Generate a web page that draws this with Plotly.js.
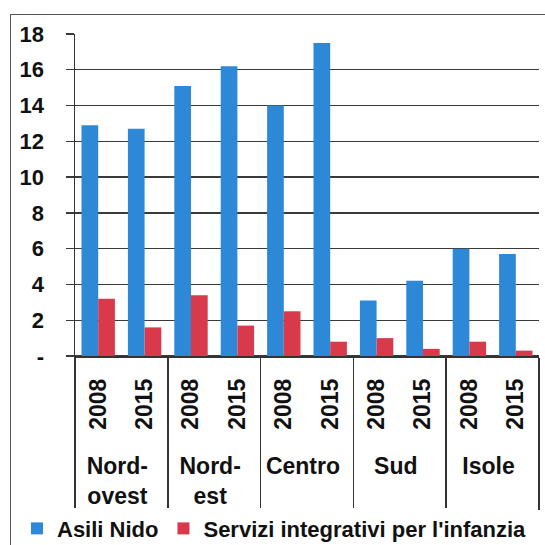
<!DOCTYPE html>
<html>
<head>
<meta charset="utf-8">
<script src="https://cdn.plot.ly/plotly-3.0.1.min.js"></script>
<style>
  html, body { margin: 0; padding: 0; background: #ffffff; }
  #chart { position: absolute; left: 0; top: 0; width: 545px; height: 545px; }
  #frame { position: absolute; left: 10px; top: 14px; width: 560px; height: 560px;
           border-left: 1.5px solid #555; border-top: 1.5px solid #555; pointer-events: none; }
</style>
</head>
<body>
<div id="chart"></div>
<div id="frame"></div>
<script>
// ---- data ----
const regions = ['Nord-<br>ovest', 'Nord-<br>est', 'Centro', 'Sud', 'Isole'];
const years = ['2008', '2015'];
const asiliNido = [12.9, 12.7, 15.1, 16.2, 14.0, 17.5, 3.1, 4.2, 6.0, 5.7];
const serviziIntegrativi = [3.2, 1.6, 3.4, 1.7, 2.5, 0.8, 1.0, 0.4, 0.8, 0.3];
const yTickVals = [0, 2, 4, 6, 8, 10, 12, 14, 16, 18];
const yTickText = ['-', '2', '4', '6', '8', '10', '12', '14', '16', '18'];
const seriesNames = ['Asili Nido', "Servizi integrativi per l'infanzia"];

// ---- build multicategory x (years padded with non-breaking spaces so the
//      region labels sit lower, as in the original) ----
const PAD = '\u00a0\u00a0';
const outer = [], inner = [];
regions.forEach(r => years.forEach(y => { outer.push(r); inner.push(PAD + y); }));

const FONT = 'Liberation Sans, Arial, sans-serif';

const traces = [
  { type: 'bar', name: seriesNames[0], x: [outer, inner], y: asiliNido,
    marker: { color: '#2E88D8' } },
  { type: 'bar', name: seriesNames[1], x: [outer, inner], y: serviziIntegrativi,
    marker: { color: '#D83A4C' } }
];

const layout = {
  width: 545, height: 545,
  margin: { l: 75, r: 6, t: 34, b: 189, autoexpand: false },
  paper_bgcolor: '#ffffff', plot_bgcolor: '#ffffff',
  barmode: 'group', bargap: 0.28, bargroupgap: 0,
  font: { family: FONT, color: '#111', size: 21 },
  showlegend: true,
  legend: { orientation: 'h', x: -0.125, xanchor: 'left', y: -0.536, yanchor: 'middle',
            font: { family: FONT, size: 22, color: '#111', weight: 'bold' },
            itemsizing: 'constant', tracegroupgap: 0, itemwidth: 20 },
  xaxis: {
    type: 'multicategory',
    showline: true, linecolor: '#333', linewidth: 1.5,
    ticks: '', tickangle: -90, ticklabelstandoff: 12,
    tickfont: { family: FONT, size: 23, color: '#111', weight: 'bold' },
    showdividers: true, dividercolor: '#333', dividerwidth: 1.5,
    showgrid: false
  },
  yaxis: {
    range: [0, 18], tickvals: yTickVals, ticktext: yTickText,
    showgrid: true, gridcolor: '#3a3a3a', gridwidth: 1.3,
    zeroline: true, zerolinecolor: '#3a3a3a', zerolinewidth: 1.3,
    showline: true, linecolor: '#333', linewidth: 1.5,
    ticks: 'outside', ticklen: 8, tickcolor: '#3a3a3a', tickwidth: 1.3,
    ticklabelstandoff: 17,
    tickfont: { family: FONT, size: 22, color: '#111', weight: 'bold' }
  }
};

Plotly.newPlot('chart', traces, layout, { staticPlot: true, displayModeBar: false });
</script>
</body>
</html>
